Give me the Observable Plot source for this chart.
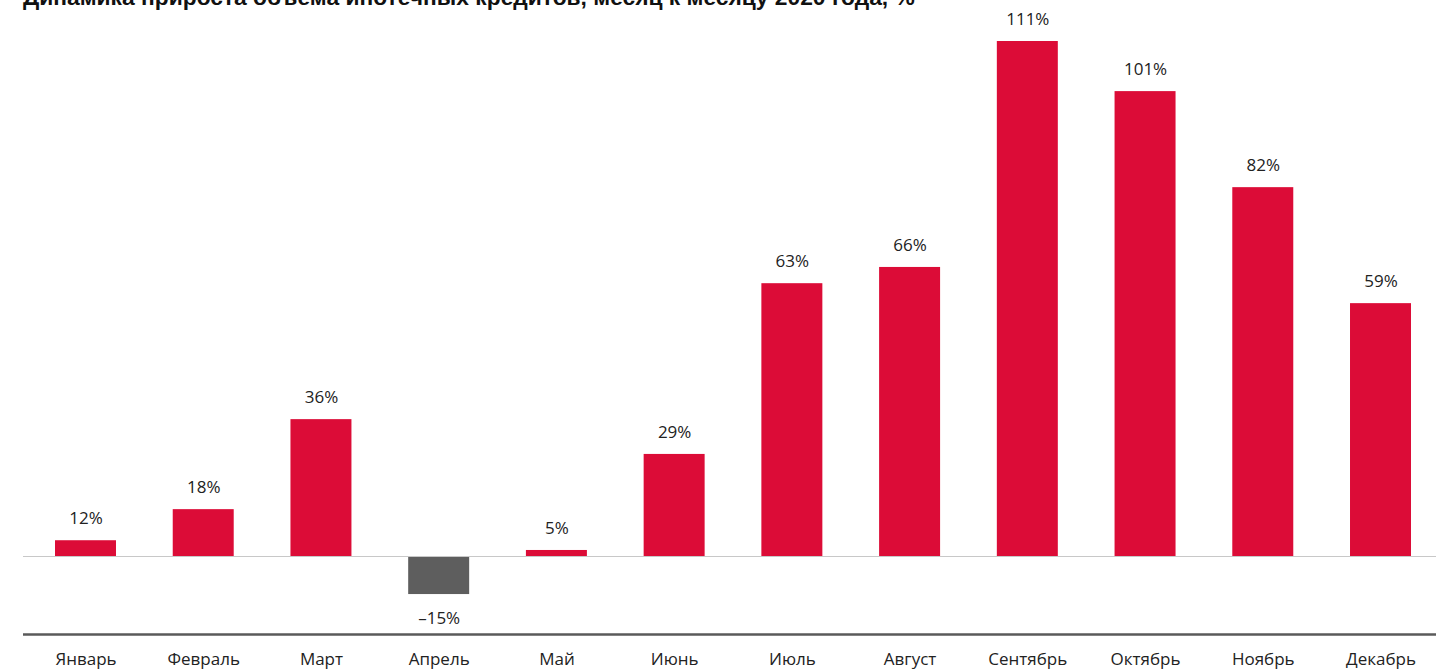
<!DOCTYPE html>
<html>
<head>
<meta charset="utf-8">
<script src="https://cdn.jsdelivr.net/npm/d3@7"></script>
<script src="https://cdn.jsdelivr.net/npm/@observablehq/plot@0.6"></script>
<style>
  html, body { margin: 0; padding: 0; background: #fff; overflow: hidden; }
  #wrap { position: relative; width: 1436px; height: 671px; overflow: hidden; }
  #title { position: absolute; left: 23px; top: -14.5px; font: bold 22.8px "Liberation Sans", Arial, sans-serif; line-height: 1; color: #111; white-space: nowrap; }
  #chart { position: absolute; left: 0; top: 0; }
</style>
</head>
<body>
<div id="wrap">
  <div id="chart"></div>
  <div id="title">Динамика прироста объема ипотечных кредитов, месяц к месяцу 2020 года, %</div>
</div>
<script>
const months = ["Январь", "Февраль", "Март", "Апрель", "Май", "Июнь", "Июль", "Август", "Сентябрь", "Октябрь", "Ноябрь", "Декабрь"];
// bar heights as drawn in the picture (in % units of the drawn scale)
const barValues = [3.4, 10.1, 29.5, -8.2, 1.3, 22.0, 58.8, 62.3, 111.0, 100.2, 79.5, 54.5];
// value labels printed on the chart
const labels = ["12%", "18%", "36%", "–15%", "5%", "29%", "63%", "66%", "111%", "101%", "82%", "59%"];

const data = months.map((m, i) => ({ month: m, value: barValues[i], label: labels[i] }));

const font = "'Open Sans', sans-serif";

const plot = Plot.plot({
  width: 1436,
  height: 671,
  marginTop: 41,
  marginBottom: 37,
  marginLeft: 23,
  marginRight: 0,
  style: { fontFamily: font, background: "#fff" },
  x: { domain: months, range: [55, 1411], paddingInner: 0.482, paddingOuter: 0, round: false, axis: null },
  y: { domain: [-16.81, 111], axis: null },
  marks: [
    Plot.barY(data, {
      x: "month",
      y: "value",
      fill: d => d.value < 0 ? "#5e5e5e" : "#dc0c37"
    }),
    Plot.ruleY([0], { stroke: "#c8c8c8", strokeWidth: 1.2 }),
    Plot.ruleY([-16.81], { stroke: "#5a5a5a", strokeWidth: 2.5 }),
    Plot.text(data.filter(d => d.value >= 0), {
      x: "month", y: "value", text: "label", dy: -22,
      lineAnchor: "middle", fontSize: 17, fill: "#222"
    }),
    Plot.text(data.filter(d => d.value < 0), {
      x: "month", y: "value", text: "label", dy: 24,
      lineAnchor: "middle", fontSize: 17, fill: "#222"
    }),
    Plot.text(data, {
      x: "month", frameAnchor: "bottom", text: "month", dy: 25,
      lineAnchor: "middle", fontSize: 17, fill: "#222"
    })
  ]
});
document.getElementById("chart").appendChild(plot);
</script>
</body>
</html>
